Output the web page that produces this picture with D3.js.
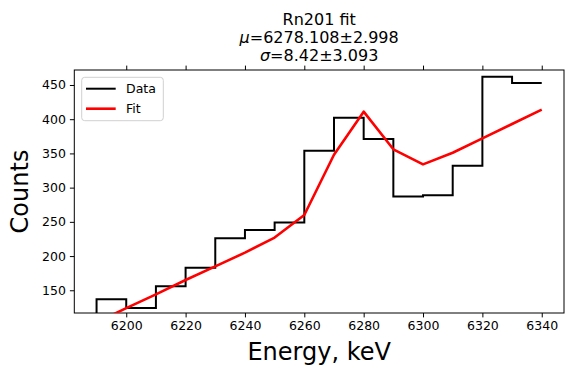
<!DOCTYPE html>
<html>
  <head>
    <meta charset="utf-8" />
    <title>Rn201 fit</title>
    <style>
      body { margin: 0; background: #fff; }
      svg text { font-family: "DejaVu Sans", sans-serif; fill: #000; }
    </style>
  </head>
  <body>
    <div id="chart-area"></div>

    <script type="text/javascript" src="https://d3js.org/d3.v7.min.js"></script>
    <script type="text/javascript">
      // step histogram + fit line
      const energies = [6190, 6200, 6210, 6220, 6230, 6240, 6250, 6260, 6270, 6280, 6290, 6300, 6310, 6320, 6330, 6340];
      const counts = [110, 137, 124, 156, 183, 226, 238, 249, 354, 402, 371, 287, 289, 332, 462, 453];
      const fitValues = [103, 124, 144, 165, 185, 205, 227, 260, 348, 411, 356, 334, 351, 372, 393, 414];
      const xTicks = [6200, 6220, 6240, 6260, 6280, 6300, 6320, 6340];
      const yTicks = [150, 200, 250, 300, 350, 400, 450];
      const titleLines = ["Rn201 fit", ["\u03bc", "=6278.108\u00b12.998"], ["\u03c3", "=8.42\u00b13.093"]];

      const width = 565;
      const height = 369;
      const margin = { top: 70, right: 1, bottom: 56, left: 74.3 };

      const svg = d3.select("#chart-area").append("svg")
        .attr("width", width)
        .attr("height", height);

      const xScale = d3.scaleLinear()
        .domain([6182.5, 6347.5])
        .range([margin.left, width - margin.right]);

      const yScale = d3.scaleLinear()
        .domain([116.8, 471.9])
        .range([height - margin.bottom, margin.top]);

      svg.append("clipPath")
        .attr("id", "plot-clip")
        .append("rect")
        .attr("x", margin.left)
        .attr("y", margin.top)
        .attr("width", width - margin.left - margin.right)
        .attr("height", height - margin.top - margin.bottom);

      // axes
      const xAxis = svg.append("g")
        .attr("transform", `translate(0, ${height - margin.bottom})`)
        .call(d3.axisBottom(xScale).tickValues(xTicks).tickFormat(d3.format("d")).tickSizeOuter(0).tickSize(4.4).tickPadding(4));

      const xTop = svg.append("g")
        .attr("transform", `translate(0, ${margin.top})`)
        .call(d3.axisTop(xScale).tickValues(xTicks).tickFormat("").tickSizeOuter(0).tickSize(4.4));

      const yAxis = svg.append("g")
        .attr("transform", `translate(${margin.left}, 0)`)
        .call(d3.axisLeft(yScale).tickValues(yTicks).tickSizeOuter(0).tickSize(4.4).tickPadding(4));

      [xAxis, xTop, yAxis].forEach(g => {
        g.select(".domain").remove();
        g.selectAll(".tick line").attr("stroke", "#000").attr("stroke-width", 1);
        g.selectAll("text").style("font-size", "12.5px").style("font-family", "DejaVu Sans");
      });

      // frame
      svg.append("rect")
        .attr("x", margin.left)
        .attr("y", margin.top)
        .attr("width", width - margin.left - margin.right)
        .attr("height", height - margin.top - margin.bottom)
        .attr("fill", "none")
        .attr("stroke", "#000")
        .attr("stroke-width", 1);

      const plot = svg.append("g").attr("clip-path", "url(#plot-clip)");

      const stepLine = d3.line()
        .x((d, i) => xScale(energies[i]))
        .y(d => yScale(d))
        .curve(d3.curveStepBefore);

      const fitLine = d3.line()
        .x((d, i) => xScale(energies[i]))
        .y(d => yScale(d));

      plot.append("path")
        .attr("d", stepLine(counts))
        .attr("fill", "none")
        .attr("stroke", "#000")
        .attr("stroke-width", 2);

      plot.append("path")
        .attr("d", fitLine(fitValues))
        .attr("fill", "none")
        .attr("stroke", "#ff0000")
        .attr("stroke-width", 2.6)
        .attr("stroke-linejoin", "round");

      // legend
      const legend = svg.append("g");
      legend.append("rect")
        .attr("x", 81.7)
        .attr("y", 77.3)
        .attr("width", 81.6)
        .attr("height", 43.4)
        .attr("rx", 3)
        .attr("fill", "#fff")
        .attr("fill-opacity", 0.8)
        .attr("stroke", "#d0d0d0")
        .attr("stroke-width", 1);

      const legendItems = [
        { label: "Data", color: "#000", w: 2 },
        { label: "Fit", color: "#ff0000", w: 2.6 }
      ];
      legendItems.forEach((item, i) => {
        const y = 88.7 + i * 20;
        legend.append("line")
          .attr("x1", 86).attr("x2", 115.7)
          .attr("y1", y).attr("y2", y)
          .attr("stroke", item.color)
          .attr("stroke-width", item.w);
        legend.append("text")
          .attr("x", 126)
          .attr("y", y + 4.5)
          .style("font-size", "12.5px")
          .text(item.label);
      });

      // title
      const cx = (margin.left + width - margin.right) / 2;
      const baselines = [25, 43, 61];
      titleLines.forEach((line, i) => {
        const t = svg.append("text")
          .attr("x", cx)
          .attr("y", baselines[i])
          .attr("text-anchor", "middle")
          .style("font-size", "16px");
        if (typeof line === "string") {
          t.text(line);
        } else {
          t.append("tspan").style("font-style", "italic").text(line[0]);
          t.append("tspan").text(line[1]);
        }
      });

      // axis labels
      svg.append("text")
        .attr("x", cx)
        .attr("y", 360)
        .attr("text-anchor", "middle")
        .style("font-size", "24px")
        .text("Energy, keV");

      svg.append("text")
        .attr("transform", `translate(28, ${(margin.top + height - margin.bottom) / 2}) rotate(-90)`)
        .attr("text-anchor", "middle")
        .style("font-size", "24px")
        .text("Counts");
    </script>
  </body>
</html>
